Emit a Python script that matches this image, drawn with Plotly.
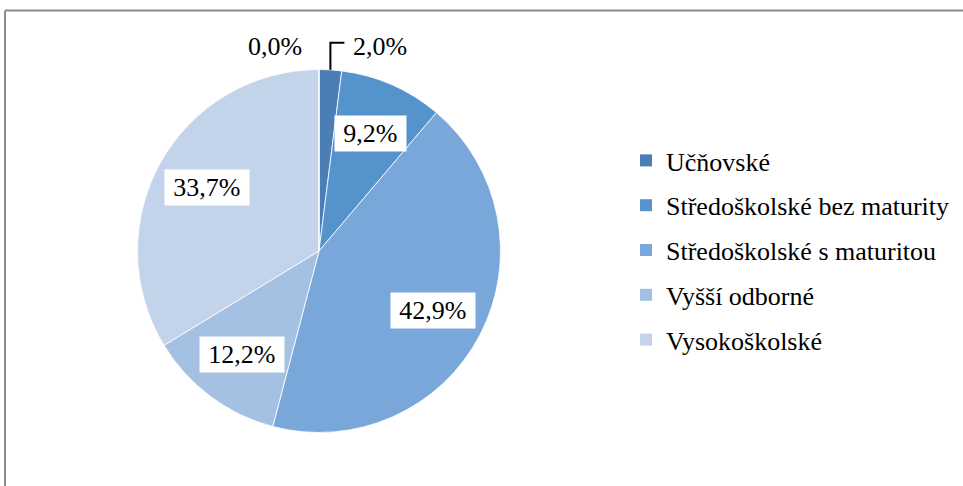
import math
import plotly.graph_objects as go

categories = ["Učňovské", "Středoškolské bez maturity", "Středoškolské s maturitou",
              "Vyšší odborné", "Vysokoškolské", ""]
values = [2.0, 9.2, 42.9, 12.2, 33.7, 0.0]
colors = ["#4a7eb5", "#5593cc", "#7aa7da", "#a4c0e3", "#c3d4ea", "#dce6f2"]
legend_count = 5

W, H = 963, 486
FONT = "Liberation Serif, Times New Roman, Tinos, serif"
CX, CY, R = 319, 251, 181.5  # pie centre / radius in pixels

def fmt(v):
    return f"{v:.1f}".replace(".", ",") + "%"

fig = go.Figure()
fig.add_trace(go.Pie(
    labels=categories, values=values, sort=False, direction="clockwise", rotation=0,
    marker=dict(colors=colors, line=dict(color="white", width=0.8)),
    textinfo="none", showlegend=False, hoverinfo="label+percent",
    domain=dict(x=[(CX - R) / W, (CX + R) / W], y=[(H - CY - R) / H, (H - CY + R) / H]),
))

# legend entries
for name, col in zip(categories[:legend_count], colors[:legend_count]):
    fig.add_trace(go.Scatter(x=[None], y=[None], mode="markers", name=name,
                             legendgroup=name,
                             marker=dict(symbol="square", size=12, color=col)))

def px(x):
    return x / W

def py(y):
    return 1 - y / H

total = sum(values)
cum = 0.0
annotations = []
shapes = []
for i, v in enumerate(values):
    start = cum / total * 360
    cum += v
    end = cum / total * 360
    mid = math.radians((start + end) / 2)
    if v / total >= 0.05:
        rr = 0.71 * R
        x = CX + rr * math.sin(mid)
        y = CY - rr * math.cos(mid)
        annotations.append(dict(x=px(x), y=py(y), xref="paper", yref="paper",
                                xanchor="center", yanchor="middle",
                                text="\u2009" + fmt(v) + "\u2009", showarrow=False,
                                bgcolor="white", borderpad=3,
                                font=dict(family=FONT, size=26, color="black")))
    elif v > 0:
        ox = CX + R * math.sin(mid)
        oy = CY - R * math.cos(mid)
        ty = oy - 27
        shapes.append(dict(type="path", xref="paper", yref="paper",
                           path=f"M {px(ox)} {py(oy)} L {px(ox)} {py(ty)} L {px(ox + 14)} {py(ty)}",
                           line=dict(color="black", width=2)))
        annotations.append(dict(x=px(ox + 21), y=py(ty + 4), xref="paper", yref="paper",
                                xanchor="left", yanchor="middle", text=fmt(v), showarrow=False,
                                font=dict(family=FONT, size=26, color="black")))
    else:
        ox = CX + R * math.sin(mid)
        oy = CY - R * math.cos(mid)
        annotations.append(dict(x=px(ox - 44), y=py(oy - 23), xref="paper", yref="paper",
                                xanchor="center", yanchor="middle",
                                text=fmt(v), showarrow=False,
                                font=dict(family=FONT, size=26, color="black")))

# chart frame (top and left edges)
shapes.append(dict(type="line", xref="paper", yref="paper", x0=px(5), x1=1, y0=py(10.5), y1=py(10.5),
                   line=dict(color="#8c8c8c", width=2)))
shapes.append(dict(type="line", xref="paper", yref="paper", x0=px(5), x1=px(5), y0=py(10.5), y1=0,
                   line=dict(color="#8c8c8c", width=2)))

fig.update_layout(
    width=W, height=H, margin=dict(l=0, r=0, t=0, b=0),
    paper_bgcolor="white", plot_bgcolor="white",
    xaxis=dict(visible=False), yaxis=dict(visible=False),
    annotations=annotations, shapes=shapes,
    legend=dict(x=px(626), y=py(137), xanchor="left", yanchor="top",
                tracegroupgap=8, font=dict(family=FONT, size=26, color="black"),
                bgcolor="rgba(0,0,0,0)"),
    font=dict(family=FONT),
)
fig.write_html("out.html", config={"displayModeBar": False},
               post_script="document.body.style.margin='0';document.body.style.overflow='hidden';")
